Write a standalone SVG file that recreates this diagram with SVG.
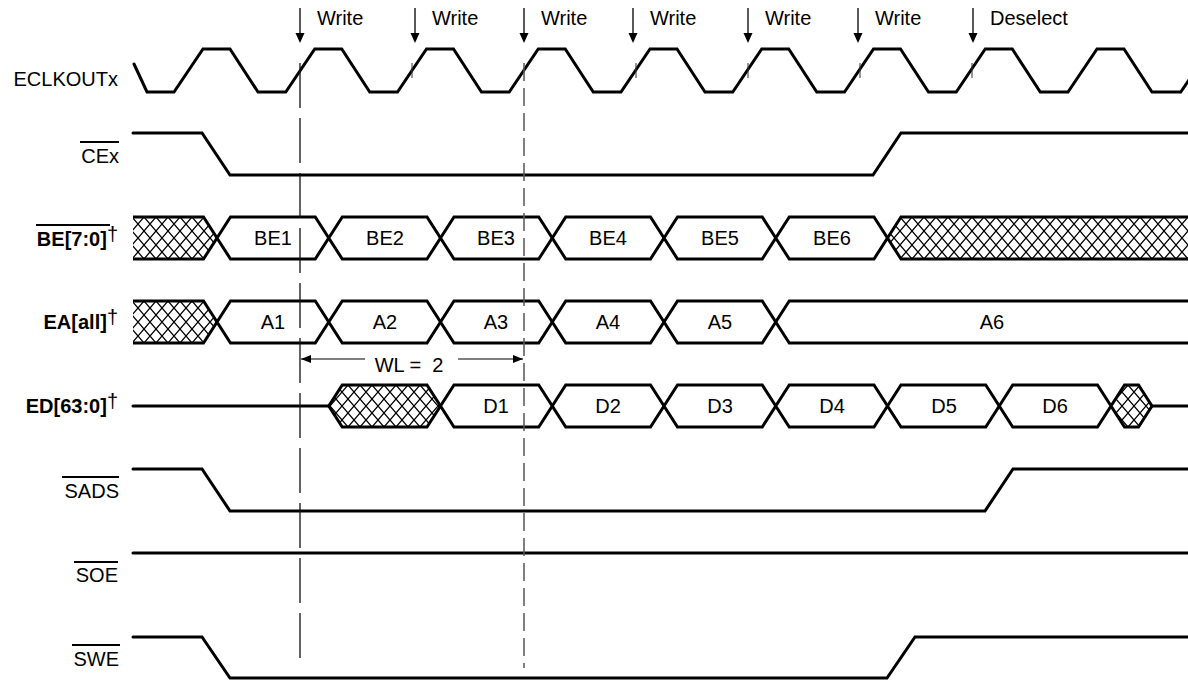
<svg xmlns="http://www.w3.org/2000/svg" width="1188" height="681" viewBox="0 0 1188 681">
<style>
text{font-family:"Liberation Sans",Arial,sans-serif;font-size:20px;fill:#000}
.lbl{text-anchor:end}
.b{font-weight:bold}
.c{text-anchor:middle}
.sig{fill:none;stroke:#000;stroke-width:3;stroke-linejoin:miter;stroke-linecap:round}
.bus{fill:#fff;stroke:#000;stroke-width:3;stroke-linejoin:miter}
.hz{fill:url(#hatch);stroke:none}
.ov{stroke:#000;stroke-width:1.8}
.arr{stroke:#000;stroke-width:1.3;fill:none}
.tick{stroke:#333;stroke-width:1}
</style>
<defs>
<pattern id="hatch" patternUnits="userSpaceOnUse" x="0" y="217" width="12" height="14">
<rect width="12" height="14" fill="#fff"/>
<path d="M0,0 L12,14 M12,0 L0,14" stroke="#000" stroke-width="1.25"/>
</pattern>
<marker id="ah" viewBox="0 0 10 8" refX="10" refY="4" markerWidth="10" markerHeight="8" markerUnits="userSpaceOnUse" orient="auto">
<path d="M0,0 L10,4 L0,8 Z" fill="#000"/>
</marker>
</defs>

<g id="labels">
<text class="lbl" x="118" y="86">ECLKOUTx</text>
<text class="lbl" x="119" y="163">CEx</text><line class="ov" x1="80" y1="142" x2="119" y2="142"/>
<text class="lbl" x="118" y="246"><tspan class="b">BE[7:0]</tspan><tspan dy="-5">†</tspan></text><line class="ov" x1="36" y1="225" x2="110" y2="225"/>
<text class="lbl" x="118" y="329"><tspan class="b">EA[all]</tspan><tspan dy="-5">†</tspan></text>
<text class="lbl" x="118" y="413"><tspan class="b">ED[63:0]</tspan><tspan dy="-5">†</tspan></text>
<text class="lbl" x="119" y="498">SADS</text><line class="ov" x1="62" y1="477" x2="119" y2="477"/>
<text class="lbl" x="118" y="582">SOE</text><line class="ov" x1="74" y1="562" x2="118" y2="562"/>
<text class="lbl" x="119" y="666">SWE</text><line class="ov" x1="72" y1="645" x2="120" y2="645"/>
</g>

<g id="sig-eclkout">
<path class="sig" d="M134,64 L147,92 L174,92 L203,49 L230,49 L258,92 L285.75,92 L314.75,49 L341.75,49 L369.75,92 L397.5,92 L426.5,49 L453.5,49 L481.5,92 L509.25,92 L538.25,49 L565.25,49 L593.25,92 L621,92 L650,49 L677,49 L705,92 L732.75,92 L761.75,49 L788.75,49 L816.75,92 L844.5,92 L873.5,49 L900.5,49 L928.5,92 L956.25,92 L985.25,49 L1012.25,49 L1040.25,92 L1068,92 L1097,49 L1124,49 L1152,92 L1180.75,92 L1189,79.8"/>
</g>

<g id="sig-cex">
<path class="sig" d="M133,133 L202,133 L230,175 L873,175 L901,133 L1190,133"/>
</g>

<g id="sig-be">
<polygon class="hz" points="133,217 203.5,217 217,238 203.5,259 133,259"/>
<path class="sig" style="stroke-linecap:butt" d="M133,217 L203.5,217 L217,238 L203.5,259 L133,259"/>
<polygon class="bus" points="217,238 230.5,217 315.25,217 328.75,238 315.25,259 230.5,259"/>
<polygon class="bus" points="328.75,238 342.25,217 427,217 440.5,238 427,259 342.25,259"/>
<polygon class="bus" points="440.5,238 454,217 538.75,217 552.25,238 538.75,259 454,259"/>
<polygon class="bus" points="552.25,238 565.75,217 650.5,217 664,238 650.5,259 565.75,259"/>
<polygon class="bus" points="664,238 677.5,217 762.25,217 775.75,238 762.25,259 677.5,259"/>
<polygon class="bus" points="775.75,238 789.25,217 874,217 887.5,238 874,259 789.25,259"/>
<polygon class="hz" points="887.5,238 901,217 1190,217 1190,259 901,259"/>
<path class="sig" d="M1190,217 L901,217 L887.5,238 L901,259 L1190,259"/>
<text class="c" x="273" y="245">BE1</text>
<text class="c" x="385" y="245">BE2</text>
<text class="c" x="496" y="245">BE3</text>
<text class="c" x="608" y="245">BE4</text>
<text class="c" x="720" y="245">BE5</text>
<text class="c" x="832" y="245">BE6</text>
</g>

<g id="sig-ea">
<polygon class="hz" points="133,301 203.5,301 217,322 203.5,343 133,343"/>
<path class="sig" style="stroke-linecap:butt" d="M133,301 L203.5,301 L217,322 L203.5,343 L133,343"/>
<polygon class="bus" points="217,322 230.5,301 315.25,301 328.75,322 315.25,343 230.5,343"/>
<polygon class="bus" points="328.75,322 342.25,301 427,301 440.5,322 427,343 342.25,343"/>
<polygon class="bus" points="440.5,322 454,301 538.75,301 552.25,322 538.75,343 454,343"/>
<polygon class="bus" points="552.25,322 565.75,301 650.5,301 664,322 650.5,343 565.75,343"/>
<polygon class="bus" points="664,322 677.5,301 762.25,301 775.75,322 762.25,343 677.5,343"/>
<path class="sig" d="M1190,301 L789.25,301 L775.75,322 L789.25,343 L1190,343"/>
<text class="c" x="273" y="329">A1</text>
<text class="c" x="385" y="329">A2</text>
<text class="c" x="496" y="329">A3</text>
<text class="c" x="608" y="329">A4</text>
<text class="c" x="720" y="329">A5</text>
<text class="c" x="992" y="329">A6</text>
</g>

<g id="sig-ed">
<path class="sig" d="M133,406 L328.75,406"/>
<polygon class="bus" style="fill:url(#hatch)" points="328.75,406 342.25,385 427,385 440.5,406 427,427 342.25,427"/>
<polygon class="bus" points="440.5,406 454,385 538.75,385 552.25,406 538.75,427 454,427"/>
<polygon class="bus" points="552.25,406 565.75,385 650.5,385 664,406 650.5,427 565.75,427"/>
<polygon class="bus" points="664,406 677.5,385 762.25,385 775.75,406 762.25,427 677.5,427"/>
<polygon class="bus" points="775.75,406 789.25,385 874,385 887.5,406 874,427 789.25,427"/>
<polygon class="bus" points="887.5,406 901,385 985.75,385 999.25,406 985.75,427 901,427"/>
<polygon class="bus" points="999.25,406 1012.75,385 1097.5,385 1111,406 1097.5,427 1012.75,427"/>
<polygon class="bus" style="fill:url(#hatch)" points="1111,406 1124.5,385 1138.5,385 1152,406 1138.5,427 1124.5,427"/>
<path class="sig" d="M1152,406 L1190,406"/>
<text class="c" x="496" y="413">D1</text>
<text class="c" x="608" y="413">D2</text>
<text class="c" x="720" y="413">D3</text>
<text class="c" x="832" y="413">D4</text>
<text class="c" x="944" y="413">D5</text>
<text class="c" x="1055" y="413">D6</text>
</g>

<g id="sig-sads">
<path class="sig" d="M133,469 L202,469 L230,511 L985,511 L1013,469 L1190,469"/>
</g>
<g id="sig-soe">
<path class="sig" d="M133,553 L1190,553"/>
</g>
<g id="sig-swe">
<path class="sig" d="M133,637 L202,637 L230,678 L887,678 L915,637 L1190,637"/>
</g>

<g id="events">
<g class="arr">
<line x1="300" y1="8" x2="300" y2="34"/><line x1="415" y1="8" x2="415" y2="34"/><line x1="524" y1="8" x2="524" y2="34"/><line x1="633" y1="8" x2="633" y2="34"/><line x1="748" y1="8" x2="748" y2="34"/><line x1="858" y1="8" x2="858" y2="34"/><line x1="973" y1="8" x2="973" y2="34"/>
</g>
<g fill="#000">
<polygon points="295.5,33 304.5,33 300,43"/><polygon points="410.5,33 419.5,33 415,43"/><polygon points="519.5,33 528.5,33 524,43"/><polygon points="628.5,33 637.5,33 633,43"/><polygon points="743.5,33 752.5,33 748,43"/><polygon points="853.5,33 862.5,33 858,43"/><polygon points="968.5,33 977.5,33 973,43"/>
</g>
<text x="317" y="25">Write</text>
<text x="432" y="25">Write</text>
<text x="541" y="25">Write</text>
<text x="650" y="25">Write</text>
<text x="765" y="25">Write</text>
<text x="875" y="25">Write</text>
<text x="990" y="25">Deselect</text>
</g>

<g id="connectors">
<line x1="300" y1="63" x2="300" y2="668" stroke="#111" stroke-width="1.3" stroke-dasharray="45 10"/>
<line x1="524" y1="63" x2="524" y2="668" stroke="#555" stroke-width="1.5" stroke-dasharray="18 7"/>
<g class="tick">
<line x1="412" y1="63" x2="412" y2="78"/><line x1="636" y1="63" x2="636" y2="78"/><line x1="748" y1="63" x2="748" y2="78"/><line x1="860" y1="63" x2="860" y2="78"/><line x1="972" y1="63" x2="972" y2="78"/>
</g>
<line x1="365" y1="359" x2="301" y2="359" stroke="#000" stroke-width="1.2" marker-end="url(#ah)"/>
<line x1="458" y1="359" x2="523" y2="359" stroke="#000" stroke-width="1.2" marker-end="url(#ah)"/>
<text x="409" y="372" class="c" xml:space="preserve">WL =  2</text>
</g>
</svg>
